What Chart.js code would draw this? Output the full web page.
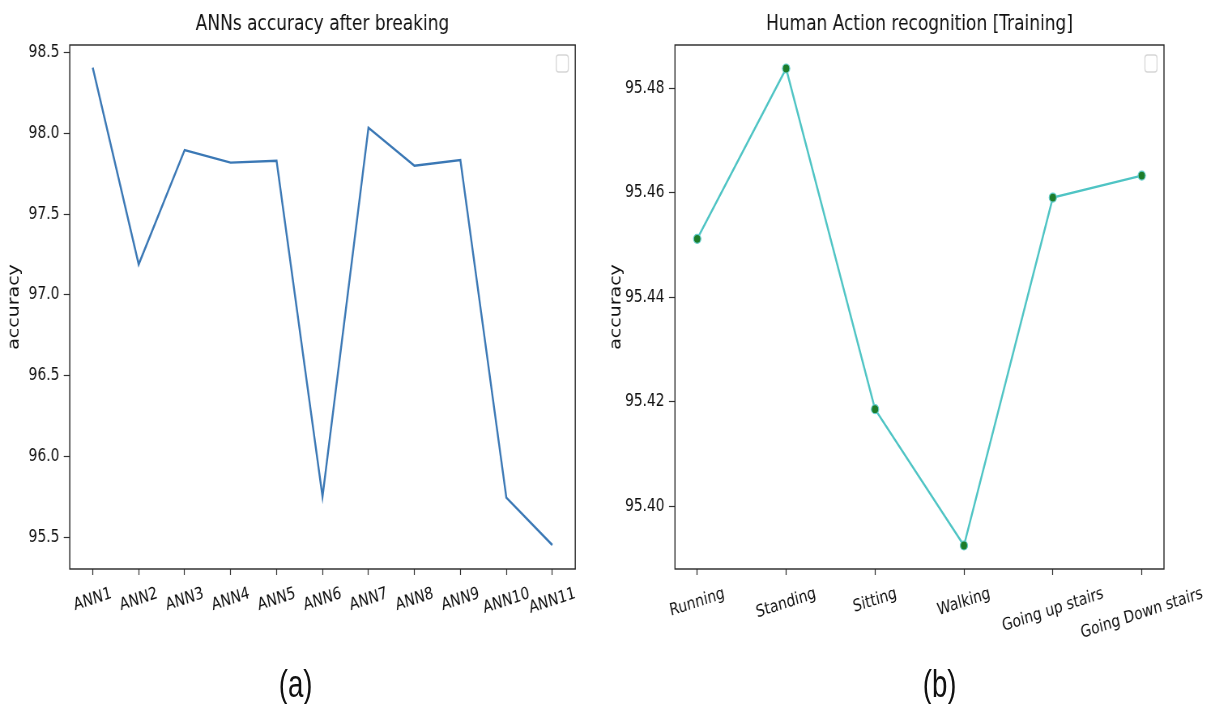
<!DOCTYPE html>
<html>
<head>
<meta charset="utf-8">
<script src="https://cdn.jsdelivr.net/npm/chart.js@4.4.0/dist/chart.umd.min.js"></script>
<style>
  html, body { margin: 0; padding: 0; background: #fff; width: 1209px; height: 704px; overflow: hidden; }
  /* la figura original esta comprimida en horizontal */
  #figura { position: absolute; left: 0; top: 0; width: 1493px; height: 704px; transform: scaleX(0.81); transform-origin: 0 0; }
  canvas { position: absolute; top: 0; }
  .etiqueta { position: absolute; top: 665px; width: 100px; text-align: center; font-family: "Liberation Sans", Arial, sans-serif; font-size: 38px; line-height: 38px; color: #111; transform: scaleX(0.9); }
</style>
</head>
<body>
<div id="figura">
  <canvas id="graficoA" width="733" height="704" style="left:11.7px"></canvas>
  <canvas id="graficoB" width="748" height="704" style="left:745px"></canvas>
  <div class="etiqueta" style="left:315px">(a)</div>
  <div class="etiqueta" style="left:1110px">(b)</div>
</div>
<script>
// Datos (a)
const modelosANN = ['ANN1', 'ANN2', 'ANN3', 'ANN4', 'ANN5', 'ANN6', 'ANN7', 'ANN8', 'ANN9', 'ANN10', 'ANN11'];
const precisionANN = [98.407, 97.189, 97.897, 97.819, 97.831, 95.750, 98.035, 97.800, 97.835, 95.744, 95.451];
const ticksA = [95.5, 96.0, 96.5, 97.0, 97.5, 98.0, 98.5];

// Datos (b)
const acciones = ['Running', 'Standing', 'Sitting', 'Walking', 'Going up stairs', 'Going Down stairs'];
const precisionAcciones = [95.4512, 95.4838, 95.4186, 95.3925, 95.4591, 95.4633];
const ticksB = [95.40, 95.42, 95.44, 95.46, 95.48];

const fuente = '"DejaVu Sans", sans-serif';
const colorTexto = '#111';
const angulo = 15 * Math.PI / 180;

// Titulo, marco de los ejes, leyenda vacia y etiquetas del eje x rotadas
const marcoPlugin = {
  id: 'marco',
  afterDraw(chart, args, opts) {
    const { ctx, chartArea: a, scales } = chart;
    ctx.save();

    ctx.fillStyle = colorTexto;
    ctx.font = '21px ' + fuente;
    ctx.textAlign = 'center';
    ctx.textBaseline = 'middle';
    ctx.fillText(opts.titulo, (a.left + a.right) / 2, 25);

    ctx.strokeStyle = '#d6d6d6';
    ctx.lineWidth = 1.3;
    ctx.beginPath();
    ctx.roundRect(a.right - 23.5, a.top + 10, 14.9, 17, 3);
    ctx.stroke();

    ctx.strokeStyle = '#262626';
    ctx.lineWidth = 1.4;
    ctx.strokeRect(a.left, a.top, a.right - a.left, a.bottom - a.top);

    ctx.font = '17px ' + fuente;
    opts.etiquetas.forEach((texto, i) => {
      const x = scales.x.getPixelForValue(i);
      const w = ctx.measureText(texto).width;
      const alto = w * Math.sin(angulo) + 17 * 1.16 * Math.cos(angulo);
      ctx.save();
      ctx.translate(x, a.bottom + 15 + alto / 2);
      ctx.rotate(-angulo);
      ctx.fillText(texto, 0, 0);
      ctx.restore();
    });
    ctx.restore();
  }
};

function crearGrafico(id, cfg) {
  const n = cfg.etiquetas.length;
  const margen = (n - 1) * 0.05;
  return new Chart(document.getElementById(id).getContext('2d'), {
    type: 'line',
    data: {
      datasets: [{
        data: cfg.valores.map((v, i) => ({ x: i, y: v })),
        borderColor: cfg.color,
        borderWidth: 2.4,
        tension: 0,
        pointRadius: cfg.radio,
        pointBackgroundColor: '#1d7d2a',
        pointBorderColor: '#63cccc',
        pointBorderWidth: 1.2
      }]
    },
    options: {
      responsive: false,
      animation: false,
      events: [],
      layout: { padding: { left: 0, right: cfg.derecha, top: 45, bottom: 75 } },
      plugins: {
        legend: { display: false },
        tooltip: { enabled: false },
        title: { display: false },
        marco: { etiquetas: cfg.etiquetas, titulo: cfg.titulo }
      },
      scales: {
        x: {
          type: 'linear',
          min: -margen,
          max: n - 1 + margen,
          afterBuildTicks: s => { s.ticks = cfg.etiquetas.map((e, i) => ({ value: i })); },
          afterFit: s => { s.height = 60; },
          ticks: { display: false },
          grid: { drawOnChartArea: false, drawTicks: true, tickLength: 6, tickColor: '#333', tickWidth: 1.2 },
          border: { display: false }
        },
        y: {
          min: cfg.min,
          max: cfg.max,
          afterBuildTicks: s => { s.ticks = cfg.ticks.map(v => ({ value: v })); },
          afterFit: s => { s.width = cfg.anchoY; },
          ticks: {
            padding: 5.5,
            color: colorTexto,
            font: { family: fuente, size: 17 },
            callback: v => v.toFixed(cfg.decimales)
          },
          grid: { drawOnChartArea: false, drawTicks: true, tickLength: 7.4, tickColor: '#333', tickWidth: 1.2 },
          border: { display: false },
          title: {
            display: true,
            text: 'accuracy',
            color: colorTexto,
            font: { family: fuente, size: 19, lineHeight: 0.3 },
            padding: { top: cfg.padTitulo, bottom: 0 }
          }
        }
      }
    },
    plugins: [marcoPlugin]
  });
}

crearGrafico('graficoA', {
  titulo: 'ANNs accuracy after breaking',
  etiquetas: modelosANN,
  valores: precisionANN,
  ticks: ticksA,
  min: 95.3025,
  max: 98.5475,
  decimales: 1,
  color: '#3b78b5',
  radio: 0,
  anchoY: 74.1,
  derecha: 34.8,
  padTitulo: 3.2
});

crearGrafico('graficoB', {
  titulo: 'Human Action recognition [Training]',
  etiquetas: acciones,
  valores: precisionAcciones,
  ticks: ticksB,
  min: 95.3880,
  max: 95.4883,
  decimales: 2,
  color: '#4fc4c4',
  radio: 4.5,
  anchoY: 88.3,
  derecha: 56,
  padTitulo: 13
});
</script>
</body>
</html>
